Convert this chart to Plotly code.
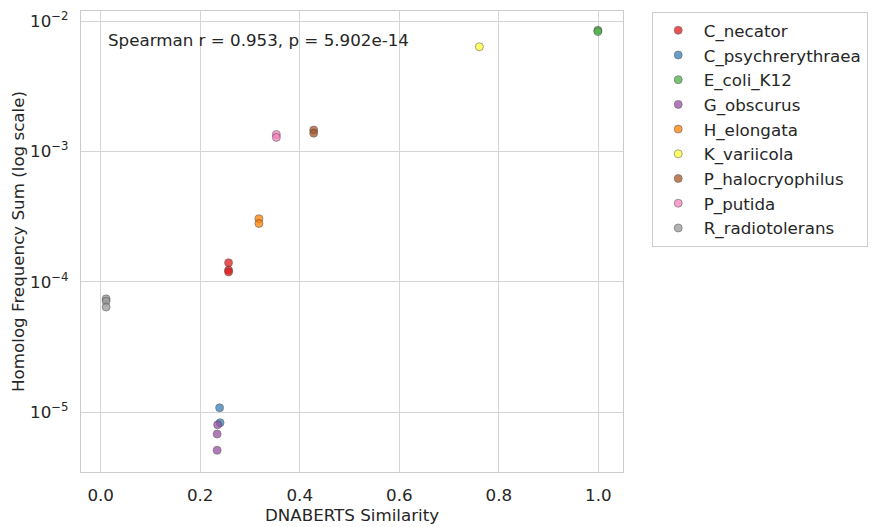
"""Scatter of DNABERTS similarity vs homolog frequency sum, one colour per species."""

import plotly.graph_objects as go

# ── data ────────────────────────────────────────────────────────────
SPECIES = [
    "C_necator", "C_psychrerythraea", "E_coli_K12", "G_obscurus", "H_elongata",
    "K_variicola", "P_halocryophilus", "P_putida", "R_radiotolerans",
]
COLORS = [
    "#e41a1c", "#377eb8", "#4daf4a", "#984ea3", "#ff7f00",
    "#ffff33", "#a65628", "#f781bf", "#999999",
]
SIMILARITY = {
    "C_necator": [0.257, 0.257, 0.257],
    "C_psychrerythraea": [0.239, 0.240],
    "E_coli_K12": [0.999, 0.999],
    "G_obscurus": [0.235, 0.234, 0.234],
    "H_elongata": [0.318, 0.318],
    "K_variicola": [0.761],
    "P_halocryophilus": [0.428, 0.428],
    "P_putida": [0.353, 0.353],
    "R_radiotolerans": [0.011, 0.011, 0.011],
}
FREQ_SUM = {
    "C_necator": [1.40e-4, 1.23e-4, 1.19e-4],
    "C_psychrerythraea": [1.08e-5, 8.3e-6],
    "E_coli_K12": [8.5e-3, 8.3e-3],
    "G_obscurus": [8.0e-6, 6.8e-6, 5.1e-6],
    "H_elongata": [3.05e-4, 2.80e-4],
    "K_variicola": [6.35e-3],
    "P_halocryophilus": [1.46e-3, 1.38e-3],
    "P_putida": [1.35e-3, 1.28e-3],
    "R_radiotolerans": [7.4e-5, 7.1e-5, 6.4e-5],
}
Y_TICKS = [1e-5, 1e-4, 1e-3, 1e-2]
Y_TICK_TEXT = ["10<sup>−5</sup>", "10<sup>−4</sup>", "10<sup>−3</sup>", "10<sup>−2</sup>"]
ANNOTATION = "Spearman r = 0.953, p = 5.902e-14"

FONT = "DejaVu Sans"
TEXT = "#262626"
GRID = "#d4d4d4"
SIZE = 16.7

fig = go.Figure()
for name, color in zip(SPECIES, COLORS):
    fig.add_trace(
        go.Scatter(
            x=SIMILARITY[name],
            y=FREQ_SUM[name],
            mode="markers",
            name=name,
            marker=dict(
                color=color, size=8, opacity=0.75,
                line=dict(color="#333333", width=0.6),
            ),
        )
    )

fig.add_annotation(
    text=ANNOTATION, xref="paper", yref="paper", x=0.046, y=0.937,
    xanchor="left", yanchor="middle", showarrow=False,
    font=dict(size=SIZE, color=TEXT, family=FONT),
)

axis_common = dict(
    showgrid=True, gridcolor=GRID, gridwidth=1,
    showline=True, linecolor="#cccccc", linewidth=1.25, mirror=True,
    zeroline=False, ticks="", ticklabelstandoff=8,
    tickfont=dict(size=SIZE, color=TEXT, family=FONT),
    title_font=dict(size=SIZE, color=TEXT, family=FONT),
)

fig.update_xaxes(
    range=[-0.0395, 1.0495], tickvals=[0, 0.2, 0.4, 0.6, 0.8, 1.0],
    tickformat=".1f", title_text="DNABERTS Similarity", title_standoff=2,
    **axis_common,
)
fig.update_yaxes(
    type="log", range=[-5.459, -1.923], tickvals=Y_TICKS, ticktext=Y_TICK_TEXT,
    title_text="Homolog Frequency Sum (log scale)", title_standoff=8,
    **axis_common,
)

# the page body adds an 8 px offset, so the figure is shrunk to match
fig.update_layout(
    width=868, height=519,
    paper_bgcolor="white", plot_bgcolor="white",
    margin=dict(l=70, r=253, t=2, b=55),
    font=dict(family=FONT, color=TEXT),
    legend=dict(
        x=1.053, y=0.998, xanchor="left", yanchor="top",
        bordercolor="#cccccc", borderwidth=1, bgcolor="white",
        font=dict(size=SIZE, color=TEXT, family=FONT),
        tracegroupgap=0, itemwidth=41,
    ),
)

fig.write_html("out.html")
